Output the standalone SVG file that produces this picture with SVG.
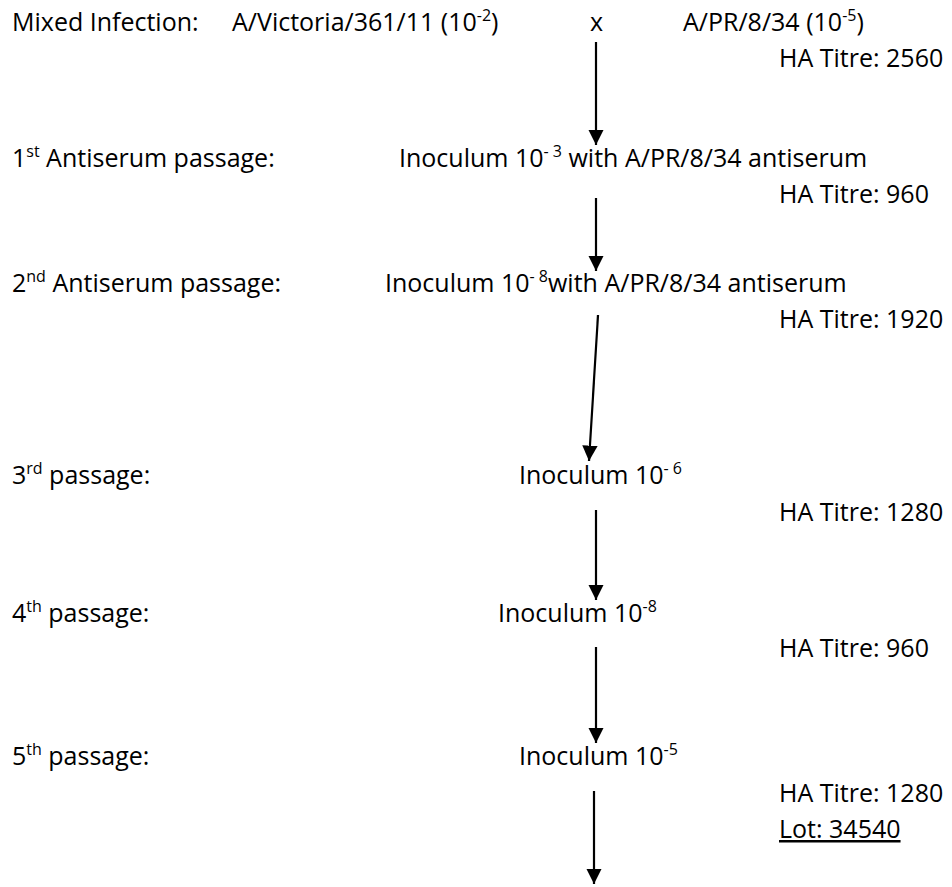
<svg xmlns="http://www.w3.org/2000/svg" width="952" height="887" viewBox="0 0 952 887">
<style>
text{font-family:"Open Sans","Liberation Sans",sans-serif;font-size:25px;fill:#000}
.sup{font-size:16px}
.conn line{stroke:#000;stroke-width:2.2}
</style>
<defs>
<marker id="ah" markerWidth="8" markerHeight="8" refX="7" refY="4" orient="auto" markerUnits="strokeWidth">
<path d="M0,0.5 L7,4 L0,7.5 z" fill="#000"/>
</marker>
</defs>
<rect width="952" height="887" fill="#fff"/>
<g id="row1">
<text x="12" y="31">Mixed Infection:</text>
<text x="232" y="31">A/Victoria/361/11 (10<tspan class="sup" dy="-10">-2</tspan><tspan dy="10">)</tspan></text>
<text x="590" y="31">x</text>
<text x="683" y="31">A/PR/8/34 (10<tspan class="sup" dy="-10">-5</tspan><tspan dy="10">)</tspan></text>
<text x="779" y="67">HA Titre: 2560</text>
</g>
<g id="row2">
<text x="12" y="167">1<tspan class="sup" dy="-10">st</tspan><tspan dy="10"> Antiserum passage:</tspan></text>
<text x="399" y="167">Inoculum 10<tspan class="sup" dy="-10">- 3</tspan><tspan dy="10"> with A/PR/8/34 antiserum</tspan></text>
<text x="779" y="203">HA Titre: 960</text>
</g>
<g id="row3">
<text x="12" y="292">2<tspan class="sup" dy="-10">nd</tspan><tspan dy="10"> Antiserum passage:</tspan></text>
<text x="385" y="292">Inoculum 10<tspan class="sup" dy="-10">- 8</tspan><tspan dy="10">with A/PR/8/34 antiserum</tspan></text>
<text x="779" y="328">HA Titre: 1920</text>
</g>
<g id="row4">
<text x="12" y="484">3<tspan class="sup" dy="-10">rd</tspan><tspan dy="10"> passage:</tspan></text>
<text x="519" y="484">Inoculum 10<tspan class="sup" dy="-10">- 6</tspan></text>
<text x="779" y="521">HA Titre: 1280</text>
</g>
<g id="row5">
<text x="12" y="622">4<tspan class="sup" dy="-10">th</tspan><tspan dy="10"> passage:</tspan></text>
<text x="498" y="622">Inoculum 10<tspan class="sup" dy="-10">-8</tspan></text>
<text x="779" y="657">HA Titre: 960</text>
</g>
<g id="row6">
<text x="12" y="765">5<tspan class="sup" dy="-10">th</tspan><tspan dy="10"> passage:</tspan></text>
<text x="519" y="765">Inoculum 10<tspan class="sup" dy="-10">-5</tspan></text>
<text x="779" y="802">HA Titre: 1280</text>
<text x="779" y="838" text-decoration="underline">Lot: 34540</text>
</g>
<g id="connectors" class="conn">
<line x1="596" y1="42" x2="596" y2="145" marker-end="url(#ah)"/>
<line x1="596" y1="198" x2="596" y2="271" marker-end="url(#ah)"/>
<line x1="598" y1="315" x2="589" y2="461" marker-end="url(#ah)"/>
<line x1="596" y1="510" x2="596" y2="600" marker-end="url(#ah)"/>
<line x1="596" y1="647" x2="596" y2="743" marker-end="url(#ah)"/>
<line x1="594" y1="791" x2="594" y2="884" marker-end="url(#ah)"/>
</g>
</svg>
